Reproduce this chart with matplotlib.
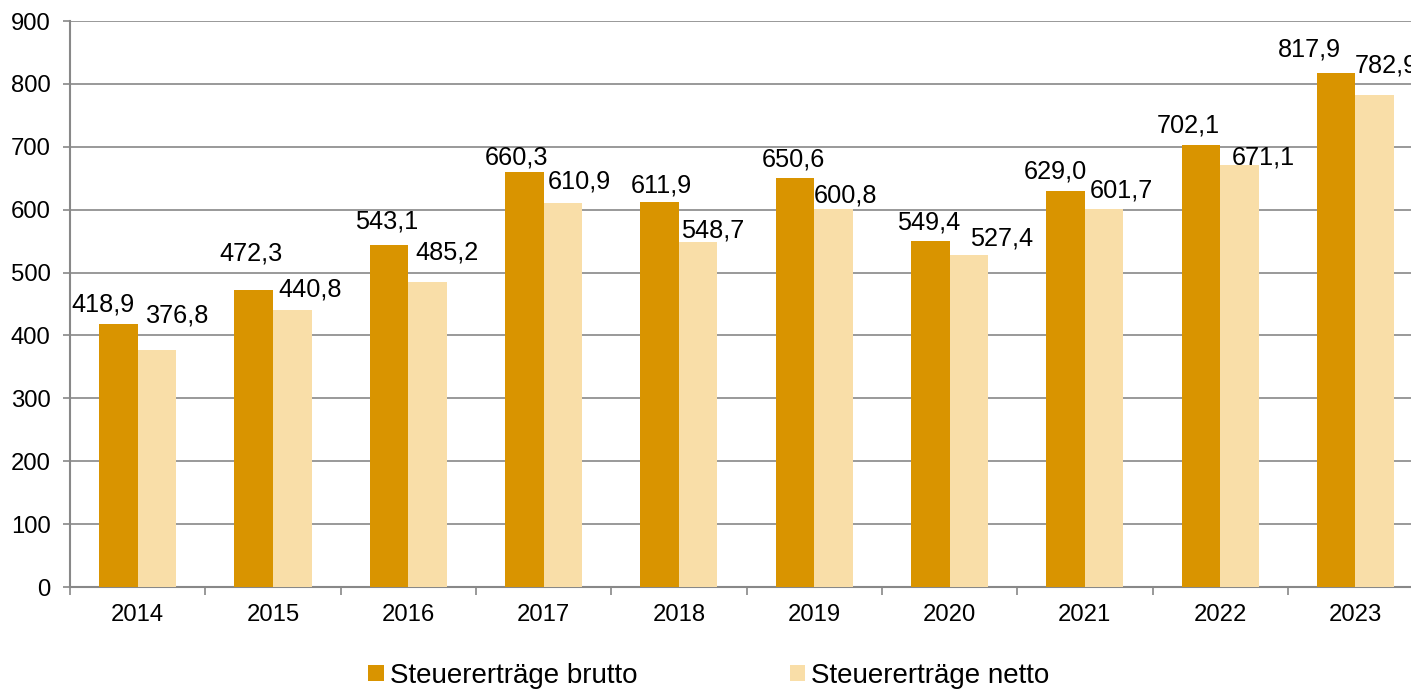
import numpy as np
from matplotlib import pyplot as plt

plt.rcParams["font.family"] = ["Liberation Sans", "DejaVu Sans"]

years = ["2014", "2015", "2016", "2017", "2018", "2019", "2020", "2021", "2022", "2023"]
brutto = [418.9, 472.3, 543.1, 660.3, 611.9, 650.6, 549.4, 629.0, 702.1, 817.9]
netto = [376.8, 440.8, 485.2, 610.9, 548.7, 600.8, 527.4, 601.7, 671.1, 782.9]
yticks = [0, 100, 200, 300, 400, 500, 600, 700, 800, 900]

# hand-placed label nudges (pixels from bar top centre), as in the original
brutto_dx = [-15, -3, -2, -8, 2, -1, -2, -10, -13, -27]
brutto_dy = [19, 36, 24, 14, 17, 18, 19, 20, 20, 23]
netto_dx = [21, 18, 19, 17, 14, 12, 33, 17, 24, 12]
netto_dy = [35, 20, 29, 21, 11, 14, 17, 18, 7, 29]

col_brutto = "#d99400"
col_netto = "#f9dea8"
gray = "#888888"


def fmt(v):
    return f"{v:.1f}".replace(".", ",")


fig = plt.figure(figsize=(14.11, 6.91), dpi=100)
ax = fig.add_axes([0.0496, 0.1505, 0.959, 0.8191])

x = np.arange(len(years))
w = 0.285
b1 = ax.bar(x - w / 2, brutto, w, color=col_brutto, zorder=3, label="Steuererträge brutto")
b2 = ax.bar(x + w / 2, netto, w, color=col_netto, zorder=3, label="Steuererträge netto")

for rect, v, dx, dy in zip(b1, brutto, brutto_dx, brutto_dy):
    ax.annotate(fmt(v), (rect.get_x() + rect.get_width() / 2, v),
                xytext=(dx, dy), textcoords="offset pixels",
                ha="center", va="center", fontsize=18.2, zorder=4)
for rect, v, dx, dy in zip(b2, netto, netto_dx, netto_dy):
    ax.annotate(fmt(v), (rect.get_x() + rect.get_width() / 2, v),
                xytext=(dx, dy), textcoords="offset pixels",
                ha="center", va="center", fontsize=18.2, zorder=4, annotation_clip=False)

ax.set_xlim(-0.5, len(years) - 0.5)
ax.set_ylim(0, 900)
ax.set_yticks(yticks)
ax.tick_params(axis="y", labelsize=17.2, length=5, color=gray, width=1.2, pad=9)
ax.set_xticks(x)
ax.set_xticklabels(years)
ax.tick_params(axis="x", which="major", length=0, labelsize=17.2, pad=12)
ax.set_xticks(np.arange(len(years) + 1) - 0.5, minor=True)
ax.tick_params(axis="x", which="minor", length=6, color=gray, width=1.2)

ax.grid(axis="y", color=gray, linewidth=1.2, zorder=0)
for s in ["top", "right"]:
    ax.spines[s].set_visible(False)
for s in ["left", "bottom"]:
    ax.spines[s].set_color(gray)
    ax.spines[s].set_linewidth(1.5)

fig.legend(loc="center", bbox_to_anchor=(0.5025, 0.022), ncol=2, frameon=False,
           fontsize=20, handlelength=0.55, handleheight=0.55, handletextpad=0.22,
           columnspacing=5.5)

fig.savefig("out.png", dpi=100)
